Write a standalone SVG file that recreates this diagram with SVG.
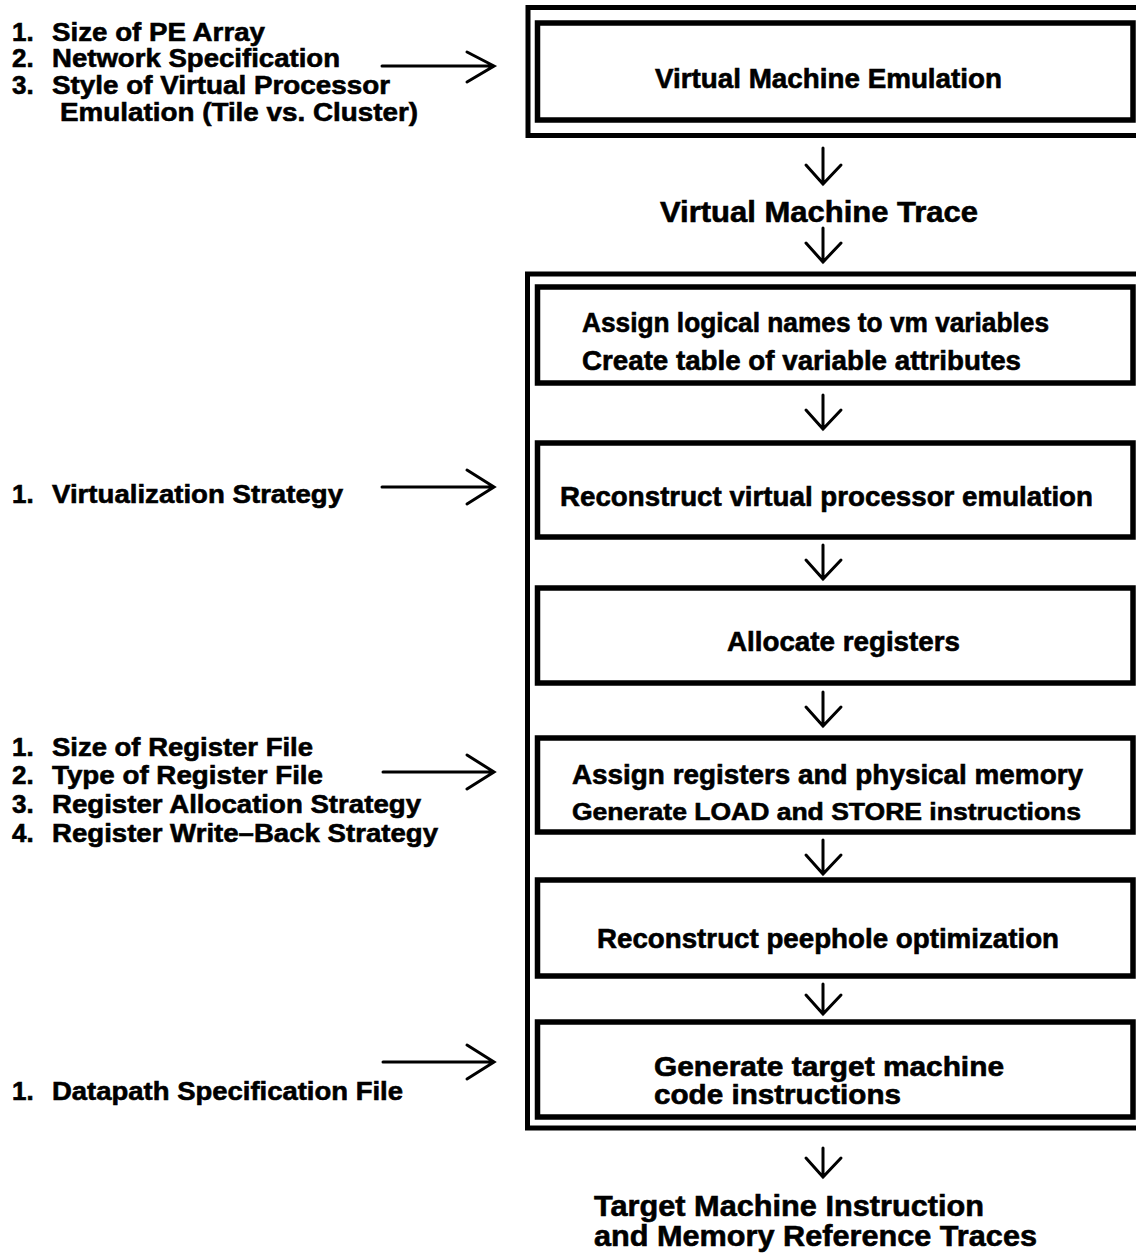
<svg xmlns="http://www.w3.org/2000/svg" width="1136" height="1253" viewBox="0 0 1136 1253">
  <defs>
    <style>
      .t { font-family: "Liberation Sans", Arial, Helvetica, sans-serif; font-weight: bold; fill: #000; stroke: #000; stroke-width: 0.6; }
      .lst { font-size: 26px; }
      .box { font-size: 27px; }
      .big { font-size: 30px; }
      .frame { fill: none; stroke: #000; stroke-width: 5; }
      .inner { fill: #fff; stroke: #000; stroke-width: 5.5; }
      .arr { fill: none; stroke: #000; stroke-width: 3; stroke-linecap: round; stroke-linejoin: miter; }
    </style>
  </defs>
  <rect width="1136" height="1253" fill="#fff"/>

  <!-- Input parameter lists -->
  <g id="params-emulation">
    <text class="t lst" x="12" y="41">1.</text>
    <text class="t lst" x="52" y="41" textLength="213" lengthAdjust="spacingAndGlyphs">Size of PE Array</text>
    <text class="t lst" x="12" y="67">2.</text>
    <text class="t lst" x="52" y="67" textLength="288" lengthAdjust="spacingAndGlyphs">Network Specification</text>
    <text class="t lst" x="12" y="94">3.</text>
    <text class="t lst" x="52" y="94" textLength="338" lengthAdjust="spacingAndGlyphs">Style of Virtual Processor</text>
    <text class="t lst" x="60" y="121" textLength="358" lengthAdjust="spacingAndGlyphs">Emulation (Tile vs. Cluster)</text>
  </g>
  <g id="params-virtualization">
    <text class="t lst" x="12" y="503">1.</text>
    <text class="t lst" x="52" y="503" textLength="291" lengthAdjust="spacingAndGlyphs">Virtualization Strategy</text>
  </g>
  <g id="params-registers">
    <text class="t lst" x="12" y="756">1.</text>
    <text class="t lst" x="52" y="756" textLength="261" lengthAdjust="spacingAndGlyphs">Size of Register File</text>
    <text class="t lst" x="12" y="784">2.</text>
    <text class="t lst" x="52" y="784" textLength="271" lengthAdjust="spacingAndGlyphs">Type of Register File</text>
    <text class="t lst" x="12" y="813">3.</text>
    <text class="t lst" x="52" y="813" textLength="369" lengthAdjust="spacingAndGlyphs">Register Allocation Strategy</text>
    <text class="t lst" x="12" y="842">4.</text>
    <text class="t lst" x="52" y="842" textLength="386" lengthAdjust="spacingAndGlyphs">Register Write–Back Strategy</text>
  </g>
  <g id="params-datapath">
    <text class="t lst" x="12" y="1100">1.</text>
    <text class="t lst" x="52" y="1100" textLength="351" lengthAdjust="spacingAndGlyphs">Datapath Specification File</text>
  </g>

  <!-- Outer frames -->
  <g id="frame-emulation">
    <rect class="frame" x="528" y="7.5" width="620" height="128"/>
  </g>
  <g id="frame-compiler">
    <rect class="frame" x="527.5" y="274" width="620" height="854"/>
  </g>

  <!-- Process boxes -->
  <g id="vm-emulation">
    <rect class="inner" x="537.5" y="23" width="595.5" height="97"/>
    <text class="t box" x="655" y="88" textLength="347" lengthAdjust="spacingAndGlyphs">Virtual Machine Emulation</text>
  </g>
  <g id="vm-trace">
    <text class="t big" x="660" y="222" textLength="318" lengthAdjust="spacingAndGlyphs">Virtual Machine Trace</text>
  </g>
  <g id="assign-names">
    <rect class="inner" x="537.5" y="287" width="595.5" height="96"/>
    <text class="t box" x="582" y="332" textLength="467" lengthAdjust="spacingAndGlyphs">Assign logical names to vm variables</text>
    <text class="t box" x="582" y="370" textLength="439" lengthAdjust="spacingAndGlyphs">Create table of variable attributes</text>
  </g>
  <g id="reconstruct-vp">
    <rect class="inner" x="537.5" y="443" width="595.5" height="94"/>
    <text class="t box" x="560" y="506" textLength="533" lengthAdjust="spacingAndGlyphs">Reconstruct virtual processor emulation</text>
  </g>
  <g id="allocate-registers">
    <rect class="inner" x="537.5" y="588" width="595.5" height="95"/>
    <text class="t box" x="727" y="651" textLength="233" lengthAdjust="spacingAndGlyphs">Allocate registers</text>
  </g>
  <g id="assign-memory">
    <rect class="inner" x="537.5" y="738" width="595.5" height="94"/>
    <text class="t box" x="572" y="784" textLength="511" lengthAdjust="spacingAndGlyphs">Assign registers and physical memory</text>
    <text class="t" font-size="24" x="572" y="820" textLength="509" lengthAdjust="spacingAndGlyphs">Generate LOAD and STORE instructions</text>
  </g>
  <g id="peephole">
    <rect class="inner" x="537.5" y="880" width="595.5" height="96"/>
    <text class="t box" x="597" y="948" textLength="462" lengthAdjust="spacingAndGlyphs">Reconstruct peephole optimization</text>
  </g>
  <g id="codegen">
    <rect class="inner" x="537.5" y="1022" width="595.5" height="95"/>
    <text class="t box" x="654" y="1076" textLength="350" lengthAdjust="spacingAndGlyphs">Generate target machine</text>
    <text class="t box" x="654" y="1104" textLength="247" lengthAdjust="spacingAndGlyphs">code instructions</text>
  </g>
  <g id="output-traces">
    <text class="t big" x="594" y="1216" textLength="390" lengthAdjust="spacingAndGlyphs">Target Machine Instruction</text>
    <text class="t big" x="594" y="1246" textLength="443" lengthAdjust="spacingAndGlyphs">and Memory Reference Traces</text>
  </g>

  <!-- Connectors: open-chevron arrows -->
  <g id="connectors" class="arr">
    <!-- parameter inputs -->
    <path d="M382 66 H493 M467 52 L494 66 L467 82"/>
    <path d="M382 487 H493 M467 470 L494 487 L467 504"/>
    <path d="M383 772 H493 M467 755 L494 772 L467 789"/>
    <path d="M383 1062 H493 M467 1045 L494 1062 L467 1079"/>
    <!-- flow down -->
    <path d="M823 148 V184 M806 165 L823 184 L841 165"/>
    <path d="M823 228 V262 M806 243 L823 262 L841 243"/>
    <path d="M823 395 V429 M806 410 L823 429 L841 410"/>
    <path d="M823 545 V579 M806 560 L823 579 L841 560"/>
    <path d="M823 692 V726 M806 707 L823 726 L841 707"/>
    <path d="M823 840 V874 M806 855 L823 874 L841 855"/>
    <path d="M823 984 V1014 M806 995 L823 1014 L841 995"/>
    <path d="M823 1148 V1177 M806 1158 L823 1177 L841 1158"/>
  </g>
</svg>
